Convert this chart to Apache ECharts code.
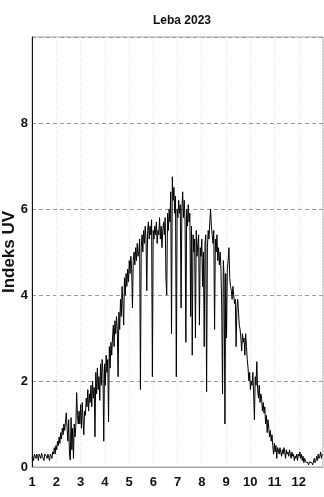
<!DOCTYPE html>
<html>
<head>
<meta charset="utf-8">
<script src="https://cdn.jsdelivr.net/npm/echarts@6/dist/echarts.min.js"></script>
<style>
html,body{margin:0;padding:0;background:#fff;}
#chart{width:324px;height:497px;}
</style>
</head>
<body>
<div id="chart"></div>
<script>
const titleText = 'Leba 2023';
const yAxisName = 'Indeks UV';
const monthLabels = ['1','2','3','4','5','6','7','8','9','10','11','12',''];
const yTickLabels = ['0','2','4','6','8',''];

const jan = [0.2,0.25,0.15,0.3,0.25,0.2,0.3,0.25,0.15,0.3,0.28,0.2,0.32,0.25,0.2,0.15,0.3,0.33,0.25,0.2,0.3,0.22,0.15,0.3,0.28,0.2,0.35,0.3,0.45,0.3,0.5];
const feb = [0.4,0.6,0.5,0.7,0.55,0.8,0.65,0.9,0.75,1.0,0.85,1.05,1.26,0.9,0.6,1.1,0.3,0.16,1.15,0.4,0.9,0.2,1.0,0.7,0.95,1.73,1.2,1.0];
const mar = [1.3,1.0,1.45,0.9,1.5,1.1,0.75,1.3,1.2,1.6,1.4,1.8,1.3,1.7,1.5,1.9,1.4,2.0,1.6,1.85,0.7,2.2,1.7,2.3,1.8,2.1,1.55,2.4,1.9,2.5,2.2];
const apr = [0.6,2.4,1.9,2.6,2.2,2.5,1.05,2.8,2.3,2.9,2.6,3.0,3.3,2.8,3.4,3.1,3.5,3.2,2.1,3.6,3.2,3.9,3.5,4.2,3.8,3.3,4.4,4.0,4.5,4.2];
const may = [4.6,4.3,4.8,4.5,4.9,4.6,3.7,4.8,5.0,4.7,5.1,4.8,5.2,4.9,5.0,5.3,1.8,5.1,5.4,5.0,5.5,5.2,5.6,5.3,4.1,5.5,5.7,5.3,5.6,5.4,5.75];
const jun = [2.1,5.5,5.3,5.6,5.4,5.7,5.2,5.5,5.4,5.8,5.3,5.6,5.1,5.5,5.7,5.4,5.8,4.4,4.0,5.9,5.5,6.0,5.7,6.4,3.1,6.75,6.2,6.5,5.9,6.3];
const jul = [2.1,6.0,5.8,6.2,5.9,6.1,3.7,6.0,6.4,5.8,6.2,5.7,2.9,6.0,5.6,6.1,5.7,5.9,3.5,5.6,2.6,5.4,5.0,5.3,3.0,5.5,4.9,5.2,5.4,3.3,5.1];
const aug = [4.9,5.3,4.2,5.0,2.8,5.2,5.4,1.75,5.1,5.5,5.3,5.7,6.0,5.6,5.4,5.2,5.5,3.2,5.3,5.0,5.4,4.8,5.1,4.7,5.0,4.6,3.7,1.7,4.8,4.4,1.0];
const sep = [4.5,3.0,4.6,4.8,5.1,4.4,4.2,4.1,3.9,4.2,4.0,3.8,3.9,2.8,3.7,3.9,3.6,3.3,3.2,3.0,2.7,3.1,2.9,3.0,2.6,3.1,2.8,2.5,2.3,2.0];
const oct = [2.2,1.8,2.0,1.9,2.2,1.7,1.1,2.1,1.9,2.45,1.8,1.6,1.9,1.5,1.7,1.6,1.3,1.5,1.25,1.4,1.0,1.2,0.8,1.1,0.9,0.7,0.85,0.6,0.75,0.5,0.3];
const nov = [0.55,0.35,0.5,0.2,0.45,0.4,0.3,0.45,0.35,0.25,0.4,0.3,0.45,0.35,0.2,0.4,0.3,0.35,0.25,0.4,0.3,0.2,0.35,0.25,0.3,0.15,0.25,0.2,0.3,0.15];
const dec = [0.3,0.25,0.35,0.2,0.3,0.15,0.25,0.1,0.2,0.12,0.08,0.15,0.1,0.05,0.12,0.08,0.15,0.1,0.05,0.12,0.2,0.1,0.15,0.25,0.15,0.3,0.2,0.25,0.35,0.2,0.3];

const daily = [].concat(jan,feb,mar,apr,may,jun,jul,aug,sep,oct,nov,dec);
const daysInYear = daily.length;
const monthStep = daysInYear / 12;
const seriesData = daily.map((v, i) => [i, v]);

const FONT = '"Liberation Sans Narrow","Liberation Sans",Arial,sans-serif';

const chart = echarts.init(document.getElementById('chart'), null, {renderer: 'canvas'});
chart.setOption({
  animation: false,
  backgroundColor: '#fff',
  title: {
    text: titleText,
    left: 177,
    top: 10,
    textAlign: 'center',
    textStyle: {fontFamily: FONT, fontWeight: 'bold', fontSize: 12, color: '#111'}
  },
  grid: {left: 32, right: 1, top: 37, bottom: 30, show: true, borderColor: '#aaa', borderWidth: 1, outerBoundsMode: 'none', containLabel: false},
  xAxis: {
    type: 'value',
    min: 0,
    max: daysInYear,
    interval: monthStep,
    axisLine: {show: true, lineStyle: {color: '#aaa', width: 1}},
    axisTick: {show: false},
    axisLabel: {
      margin: 9,
      fontFamily: FONT, fontWeight: 'bold', fontSize: 13, color: '#111',
      formatter: v => monthLabels[Math.round(v / monthStep)] || ''
    },
    splitLine: {show: true, lineStyle: {color: '#e0e0e0', type: [1, 2], width: 1}}
  },
  yAxis: {
    type: 'value',
    min: 0,
    max: 10,
    interval: 2,
    name: yAxisName,
    nameLocation: 'middle',
    nameRotate: 90,
    nameGap: 14,
    nameMoveOverlap: false,
    nameTextStyle: {fontFamily: '"Liberation Sans",Arial,sans-serif', fontWeight: 'bold', fontSize: 17, color: '#111'},
    axisLine: {show: true, lineStyle: {color: '#111', width: 1}},
    axisTick: {show: false},
    axisLabel: {
      margin: 4,
      fontFamily: FONT, fontWeight: 'bold', fontSize: 13, color: '#111',
      formatter: v => yTickLabels[Math.round(v / 2)] || ''
    },
    splitLine: {show: true, lineStyle: {color: '#999', type: [4, 3], width: 1}}
  },
  series: [{
    type: 'line',
    data: seriesData,
    showSymbol: false,
    symbol: 'none',
    lineStyle: {color: '#000', width: 1},
    z: 3
  }]
});
</script>
</body>
</html>
